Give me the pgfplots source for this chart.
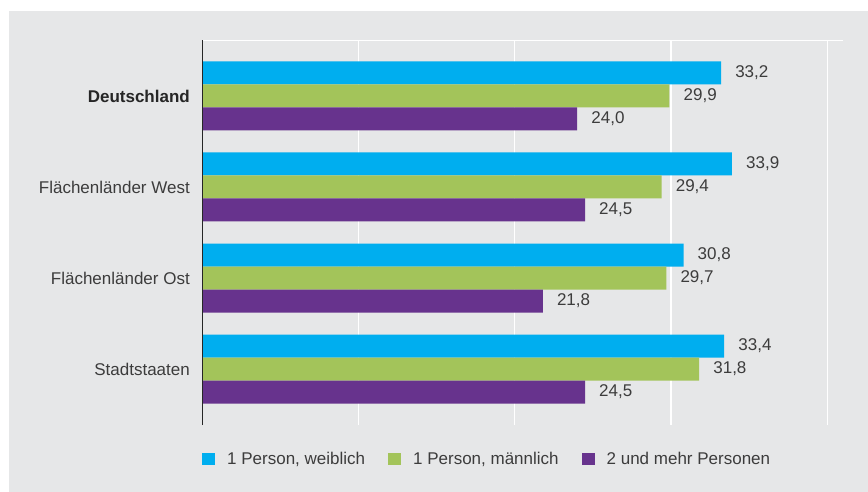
\documentclass[border=0pt]{standalone}
\usepackage{pgfplots}
\pgfplotsset{compat=1.18}
\usepackage{fontspec}
\setmainfont{Liberation Sans}
\definecolor{bg}{HTML}{E6E7E8}
\definecolor{cblue}{HTML}{00AEEF}
\definecolor{cgreen}{HTML}{A3C45A}
\definecolor{cpurple}{HTML}{67338D}
\definecolor{txt}{HTML}{3C3C3C}
\begin{document}
\begin{tikzpicture}
\useasboundingbox (0,0) rectangle (868pt,-492pt);
\fill[white] (0,0) rectangle (868pt,-492pt);
\fill[bg] (9pt,-11pt) rectangle (868pt,-492pt);
\begin{axis}[
  at={(202pt,-40pt)}, anchor=north west,
  scale only axis, width=641pt, height=385pt,
  xbar=0pt, bar width=23pt,
  xmin=0, xmax=41, ymin=-0.615, ymax=3.615,
  y dir=reverse,
  axis line style={draw=none},
  xtick={10,20,30,40}, xticklabels={},
  xmajorgrids, grid style={white, line width=1.5pt},
  ytick={0,1,2,3},
  yticklabels={\textbf{\color{black!85}Deutschland}, Flächenländer West, Flächenländer Ost, Stadtstaaten},
  major tick length=0pt,
  yticklabel style={font=\fontsize{17}{20}\selectfont, text=txt, inner sep=0pt, xshift=-12pt},
  point meta=x,
  nodes near coords={\pgfmathprintnumber[fixed, fixed zerofill, precision=1, use comma, assume math mode=true]{\pgfplotspointmeta}},
  nodes near coords style={font=\fontsize{17}{20}\selectfont, text=txt, anchor=west, inner sep=0pt, xshift=14pt},
  legend columns=3,
  legend style={at={(0,-0.088)}, anchor=west, draw=none, fill=none, inner sep=0pt,
    font=\fontsize{17}{20}\selectfont, text=txt,
    nodes={inner sep=0pt},
    column sep=12pt, /tikz/every even column/.append style={column sep=23pt}},
  legend image code/.code={\fill[#1] (0pt,-6pt) rectangle (13pt,6pt);},
]
\addplot[fill=cblue, draw=none, bar shift=23pt] coordinates {(33.2,0) (33.9,1) (30.8,2) (33.4,3)};
\addplot[fill=cgreen, draw=none, bar shift=0pt] coordinates {(29.9,0) (29.4,1) (29.7,2) (31.8,3)};
\addplot[fill=cpurple, draw=none, bar shift=-23pt] coordinates {(24.0,0) (24.5,1) (21.8,2) (24.5,3)};
\legend{{1 Person, weiblich}, {1 Person, männlich}, {2 und mehr Personen}}
\draw[white, line width=1.5pt] (rel axis cs:0,1) -- (rel axis cs:1,1);
\draw[black!85, line width=1pt] (rel axis cs:0,0) -- (rel axis cs:0,1);
\end{axis}
\end{tikzpicture}
\end{document}
